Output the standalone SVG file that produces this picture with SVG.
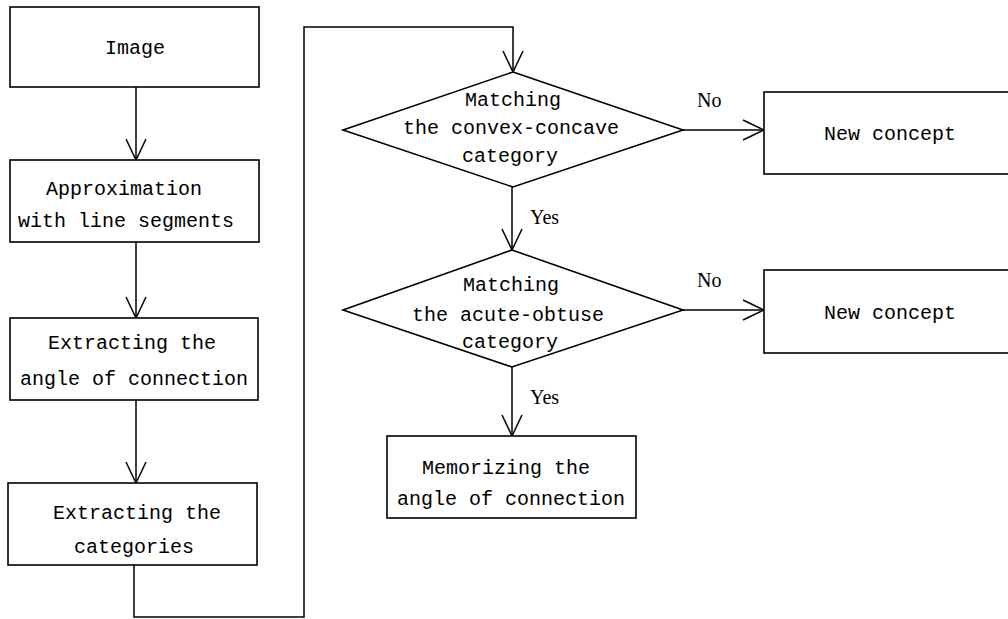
<svg xmlns="http://www.w3.org/2000/svg" width="1008" height="619" viewBox="0 0 1008 619">
<style>
.box{fill:#fff;stroke:#000;stroke-width:1.6}
.t{font-family:"Liberation Mono",monospace;font-size:20px;text-anchor:middle;dominant-baseline:central;fill:#000}
.s{font-family:"Liberation Serif",serif;font-size:20px;dominant-baseline:central;fill:#000}
.c{fill:none;stroke:#000;stroke-width:1.5}
</style>
<defs>
<marker id="v" viewBox="-23 -12 26 24" markerWidth="26" markerHeight="24" refX="0" refY="0" orient="auto" markerUnits="userSpaceOnUse">
<path d="M-21,-10 L0,0 L-21,10" fill="none" stroke="#000" stroke-width="1.5"/>
</marker>
</defs>
<g id="connectors">
<line class="c" x1="136" y1="87" x2="136" y2="160" marker-end="url(#v)"/>
<line class="c" x1="136" y1="242" x2="136" y2="318" marker-end="url(#v)"/>
<line class="c" x1="136" y1="400" x2="136" y2="483" marker-end="url(#v)"/>
<polyline class="c" points="134,565 134,617 304,617 304,27 513,27 513,72" marker-end="url(#v)"/>
<line class="c" x1="512" y1="187" x2="512" y2="250" marker-end="url(#v)"/>
<line class="c" x1="512" y1="367" x2="512" y2="436" marker-end="url(#v)"/>
<line class="c" x1="683" y1="130" x2="764" y2="130" marker-end="url(#v)"/>
<line class="c" x1="683" y1="310" x2="764" y2="310" marker-end="url(#v)"/>
<text class="s" x="530" y="217">Yes</text>
<text class="s" x="530" y="397">Yes</text>
<text class="s" x="697" y="100">No</text>
<text class="s" x="697" y="280">No</text>
</g>
<g id="image">
<rect class="box" x="10" y="7" width="249" height="80"/>
<text class="t" x="135" y="48">Image</text>
</g>
<g id="approx">
<rect class="box" x="10" y="160" width="249" height="82"/>
<text class="t" x="124" y="189">Approximation</text>
<text class="t" x="126" y="221">with line segments</text>
</g>
<g id="extract-angle">
<rect class="box" x="10" y="318" width="248" height="82"/>
<text class="t" x="132" y="343">Extracting the</text>
<text class="t" x="134" y="379">angle of connection</text>
</g>
<g id="extract-cat">
<rect class="box" x="8" y="483" width="249" height="82"/>
<text class="t" x="137" y="513">Extracting the</text>
<text class="t" x="134" y="547">categories</text>
</g>
<g id="match-convex">
<polygon class="box" points="513,72 683,130 513,187 343,130"/>
<text class="t" x="513" y="100">Matching</text>
<text class="t" x="511" y="128">the convex-concave</text>
<text class="t" x="510" y="156">category</text>
</g>
<g id="match-acute">
<polygon class="box" points="512,250 683,310 512,367 343,310"/>
<text class="t" x="511" y="285">Matching</text>
<text class="t" x="508" y="315">the acute-obtuse</text>
<text class="t" x="510" y="342">category</text>
</g>
<g id="memorize">
<rect class="box" x="387" y="436" width="249" height="82"/>
<text class="t" x="506" y="468">Memorizing the</text>
<text class="t" x="511" y="499">angle of connection</text>
</g>
<g id="new1">
<rect class="box" x="764" y="92" width="260" height="82"/>
<text class="t" x="890" y="134">New concept</text>
</g>
<g id="new2">
<rect class="box" x="764" y="270" width="260" height="83"/>
<text class="t" x="890" y="313">New concept</text>
</g>
</svg>
